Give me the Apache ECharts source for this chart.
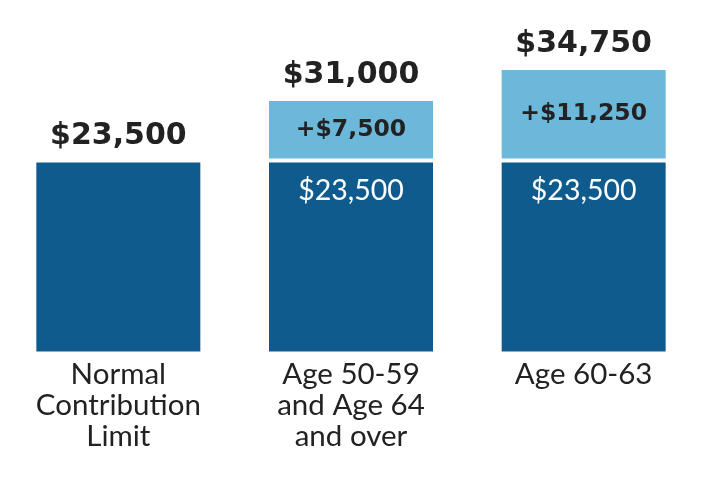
<!DOCTYPE html>
<html>
<head>
<meta charset="utf-8">
<script src="https://cdn.jsdelivr.net/npm/echarts@6/dist/echarts.min.js"></script>
<style>
html,body{margin:0;padding:0;background:#fff;}
#chart{width:702px;height:478px;}
</style>
</head>
<body>
<div id="chart"></div>
<script>
const categories = ['Normal\nContribution\nLimit', 'Age 50-59\nand Age 64\nand over', 'Age 60-63'];
const baseValues = [23500, 23500, 23500];
const catchUpValues = [0, 7500, 11250];
const totalValues = [23500, 31000, 34750];

const DARK = '#0f5b8d';
const LIGHT = '#6bb8da';
const TEXT = '#222222';

function money(v) { return '$' + v.toLocaleString('en-US'); }

const chart = echarts.init(document.getElementById('chart'));
chart.setOption({
  animation: false,
  backgroundColor: '#ffffff',
  grid: { left: 2, right: 2, top: 25, bottom: 124.5 },
  xAxis: {
    type: 'category',
    data: categories,
    axisLine: { show: false },
    axisTick: { show: false },
    axisLabel: {
      interval: 0,
      margin: 5,
      fontFamily: 'Lato',
      fontSize: 29.5,
      lineHeight: 31,
      color: TEXT
    }
  },
  yAxis: {
    type: 'value',
    min: 0,
    max: 40000,
    show: false,
    splitLine: { show: false }
  },
  series: [
    {
      name: 'Base',
      type: 'bar',
      stack: 'total',
      barWidth: 168,
      data: baseValues.map((v, i) => ({
        value: v,
        label: i === 0 ? { show: false } : {
          show: true,
          position: 'insideTop',
          distance: 16,
          formatter: p => money(p.value),
          fontFamily: 'Lato',
          fontSize: 28.5,
          color: '#ffffff'
        }
      })),
      itemStyle: { color: DARK, borderColor: '#ffffff', borderWidth: 2 }
    },
    {
      name: 'Catch-up',
      type: 'bar',
      stack: 'total',
      barWidth: 168,
      data: catchUpValues,
      itemStyle: { color: LIGHT, borderColor: '#ffffff', borderWidth: 2 },
      label: {
        show: true,
        position: 'inside',
        formatter: p => p.value ? '+' + money(p.value) : '',
        fontFamily: 'DejaVu Sans',
        fontWeight: 'bold',
        fontSize: 23.5,
        color: TEXT
      }
    },
    {
      name: 'Total',
      type: 'bar',
      barWidth: 168,
      barGap: '-100%',
      data: totalValues,
      z: 1,
      itemStyle: { color: 'rgba(0,0,0,0)' },
      silent: true,
      label: {
        show: true,
        position: 'top',
        distance: 9,
        formatter: p => money(p.value),
        fontFamily: 'DejaVu Sans',
        fontWeight: 'bold',
        fontSize: 30,
        color: TEXT
      }
    }
  ]
});
</script>
</body>
</html>
